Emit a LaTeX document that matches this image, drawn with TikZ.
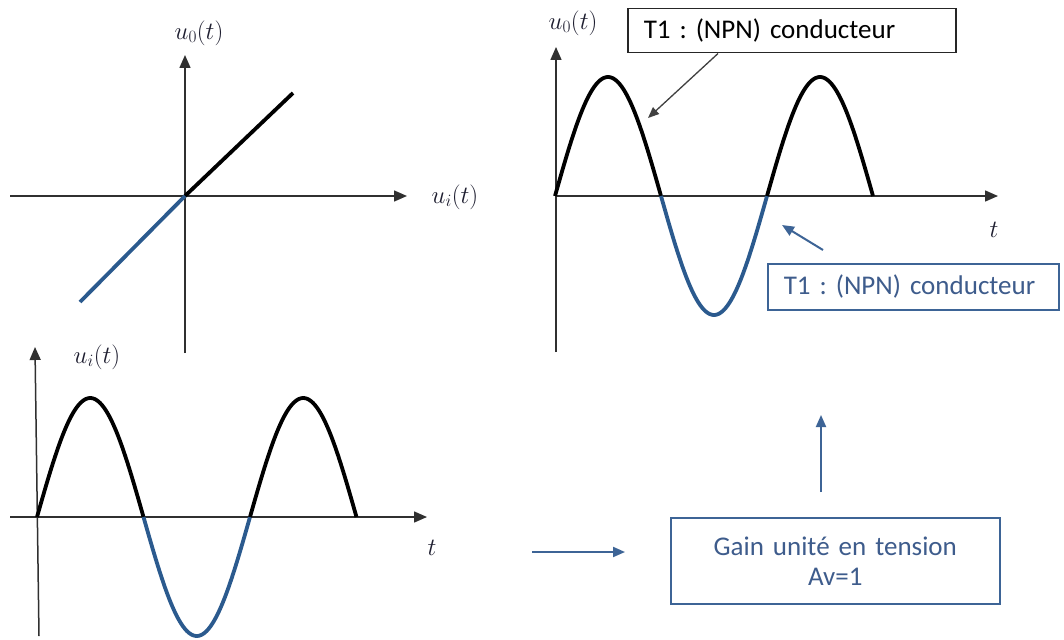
\documentclass[tikz,border=0pt]{standalone}
\usepackage{fontspec}
\newfontfamily\boxfont{Carlito}
\usetikzlibrary{arrows.meta,calc}
\definecolor{cblue}{HTML}{2B5A8E}
\definecolor{bxblue}{HTML}{3D6496}
\definecolor{txtblue}{HTML}{3E5C8C}
\definecolor{axgray}{HTML}{303030}
\definecolor{labcol}{HTML}{1E1E30}
\frenchspacing
\begin{document}
\frenchspacing
\begin{tikzpicture}[x=1pt,y=-1pt,
  axis/.style={draw=axgray, line width=1.5pt, -{Triangle[length=13pt,width=11pt]}},
  curve/.style={line width=3.8pt},
  bcurve/.style={line width=3.8pt, draw=cblue},
  lab/.style={text=labcol, font=\fontsize{25}{29}\selectfont, inner sep=0pt},
  ptr/.style={draw=black!75, line width=1.3pt, -{Triangle[length=11pt,width=9pt]}},
  bptr/.style={draw=bxblue, line width=2pt, -{Triangle[length=12pt,width=10pt]}},
  boxtxt/.style={font=\boxfont\fontsize{27}{32}\selectfont\frenchspacing},
]
\useasboundingbox[fill=white] (0,0) rectangle (1064,639);

% ---------- top-left transfer characteristic ----------
\coordinate (o1) at (185,196);
\coordinate (tlL) at (10,196);
\coordinate (tlR) at (407,196);
\coordinate (tlB) at (185,353);
\coordinate (tlT) at (185,55);
\draw[axis] (tlL) -- (tlR);
\draw[axis] (tlB) -- (tlT);
\coordinate (tlP) at (293,93);
\coordinate (tlN) at (80,302);
\draw[curve] (o1) -- (tlP);
\draw[bcurve] (o1) -- (tlN);
\node[lab] (l1) at (199,33) {$u_0(t)$};
\node[lab] (l2) at (455,197) {$u_i(t)$};

% ---------- top-right output signal ----------
\coordinate (trO) at (555,196);
\coordinate (trR) at (998,196);
\coordinate (trB) at (556,352);
\coordinate (trT) at (556,47);
\draw[axis] (trO) -- (trR);
\draw[axis] (trB) -- (trT);
\draw[curve] plot[domain=0:180,samples=60] ({555+\x/180*106},{196-119*sin(\x)});
\draw[bcurve] plot[domain=180:360,samples=60] ({555+\x/180*106},{196-119*sin(\x)});
\draw[curve] plot[domain=360:540,samples=60] ({555+\x/180*106},{196-119*sin(\x)});
\node[lab] (l3) at (573,23) {$u_0(t)$};
\node[lab] (l4) at (994,230) {$t$};

\node[draw=black!85, line width=1.5pt, anchor=north west, text width=296pt,
      align=left, inner xsep=16pt, inner ysep=0pt, minimum height=44pt, boxtxt]
      (tbox) at (627,8) {T1 : (NPN) conducteur};
\coordinate (tip1) at (648,118);
\draw[ptr] ($(tbox.south west)+(91,0)$) -- (tip1);

\node[draw=bxblue, line width=1.5pt, anchor=north west, text width=259pt,
      align=left, inner xsep=16pt, inner ysep=0pt, minimum height=46pt, boxtxt,
      text=txtblue] (bbox) at (767,263) {T1 : (NPN) conducteur};
\coordinate (tip2) at (782,225);
\draw[bptr] ($(bbox.north west)+(56,-13)$) -- (tip2);

% ---------- bottom-left input signal ----------
\coordinate (blL) at (10,517);
\coordinate (blR) at (427,517);
\coordinate (blB) at (39,636);
\coordinate (blT) at (35,347);
\draw[axis] (blL) -- (blR);
\draw[axis] (blB) -- (blT);
\draw[curve] plot[domain=0:180,samples=60] ({37+\x/180*106.5},{517-119*sin(\x)});
\draw[bcurve] plot[domain=180:360,samples=60] ({37+\x/180*106.5},{517-119*sin(\x)});
\draw[curve] plot[domain=360:540,samples=60] ({37+\x/180*106.5},{517-119*sin(\x)});
\node[lab] (l5) at (97,357) {$u_i(t)$};
\node[lab] (l6) at (432,548) {$t$};

% ---------- bottom-right gain block ----------
\node[draw=bxblue, line width=1.5pt, anchor=north west, text width=297pt,
      align=center, inner xsep=16pt, inner ysep=0pt, minimum height=86pt, boxtxt,
      text=txtblue] (gbox) at (670,517) {Gain unité en tension\\[-2pt]Av=1};
\coordinate (hin) at (532,552);
\coordinate (hout) at (625,552);
\draw[bptr] (hin) -- (hout);
\coordinate (vin) at (821,492);
\coordinate (vout) at (821,415);
\draw[bptr] (vin) -- (vout);
\end{tikzpicture}
\end{document}
